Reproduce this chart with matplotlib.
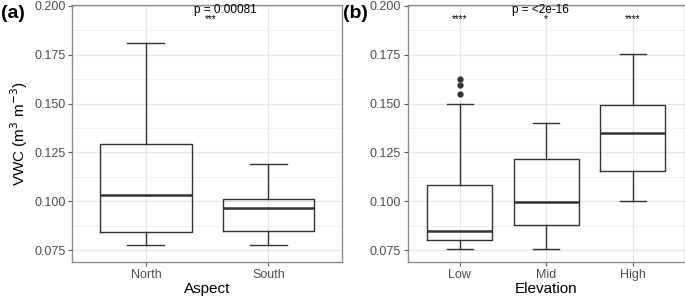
import matplotlib
matplotlib.use("Agg")
import matplotlib.pyplot as plt
import numpy as np

# panel (a): aspect
aspect_cats = ["North", "South"]
aspect_stats = [
    # whislo, q1, med, q3, whishi
    [0.0777, 0.0843, 0.1032, 0.1292, 0.1810],
    [0.0777, 0.0848, 0.0964, 0.1009, 0.1188],
]
aspect_fliers = [[], []]
aspect_p = "p = 0.00081"
aspect_signif = ["***"]

# panel (b): elevation
elev_cats = ["Low", "Mid", "High"]
elev_stats = [
    [0.0756, 0.0801, 0.0849, 0.1083, 0.1497],
    [0.0756, 0.0878, 0.0996, 0.1216, 0.1401],
    [0.1000, 0.1152, 0.1348, 0.1493, 0.1751],
]
elev_fliers = [[0.1547, 0.1594, 0.1624], [], []]
elev_p = "p = <2e-16"
elev_signif = ["****", "*", "****"]

yticks = [0.075, 0.100, 0.125, 0.150, 0.175, 0.200]
ylim = (0.0689, 0.2004)

plt.rcParams["font.family"] = ["Liberation Sans", "DejaVu Sans"]

fig = plt.figure(figsize=(6.85, 2.97), dpi=100)
ax_a = fig.add_axes([0.1056, 0.118, 0.3937, 0.865])
ax_b = fig.add_axes([0.5952, 0.118, 0.4041, 0.865])

line_col = "#333333"


def draw_panel(ax, cats, stats, fliers):
    n = len(cats)
    pos = np.arange(1, n + 1)
    bxp = []
    for c, s, f in zip(cats, stats, fliers):
        bxp.append({"label": c, "whislo": s[0], "q1": s[1], "med": s[2],
                    "q3": s[3], "whishi": s[4], "fliers": f})
    ax.bxp(bxp, positions=pos, widths=0.75, showfliers=True,
           boxprops=dict(color=line_col, linewidth=1.0),
           whiskerprops=dict(color=line_col, linewidth=1.0),
           capprops=dict(color=line_col, linewidth=1.0),
           medianprops=dict(color=line_col, linewidth=1.8),
           flierprops=dict(marker="o", markerfacecolor=line_col,
                           markeredgecolor=line_col, markersize=3.5),
           capwidths=0.3, manage_ticks=False, zorder=3)
    ax.set_xlim(0.4, n + 0.6)
    ax.set_ylim(*ylim)
    ax.set_xticks(pos)
    ax.set_xticklabels(cats)
    ax.set_yticks(yticks)
    ax.set_yticklabels([f"{t:.3f}" for t in yticks])
    minor = [(a + b) / 2 for a, b in zip(yticks[:-1], yticks[1:])]
    ax.set_yticks(minor, minor=True)
    ax.grid(True, which="major", color="#e6e6e6", linewidth=0.9, zorder=0)
    ax.grid(True, which="minor", axis="y", color="#f0f0f0", linewidth=0.6, zorder=0)
    ax.tick_params(which="minor", length=0)
    ax.tick_params(which="major", length=3, color="#555555", labelsize=9,
                   labelcolor="#4d4d4d", pad=2)
    for sp in ax.spines.values():
        sp.set_color("#8c8c8c")
        sp.set_linewidth(1.0)
    ax.set_axisbelow(True)


draw_panel(ax_a, aspect_cats, aspect_stats, aspect_fliers)
draw_panel(ax_b, elev_cats, elev_stats, elev_fliers)

ax_a.set_xlabel("Aspect", fontsize=11, labelpad=1)
ax_b.set_xlabel("Elevation", fontsize=11, labelpad=1)
ax_a.set_ylabel("VWC (m$^{3}$ m$^{-3}$)", fontsize=11, labelpad=3)

# p-values and significance stars
ax_a.text(1.65, 0.1978, aspect_p, ha="center", va="center", fontsize=8.5)
ax_a.text(1.53, 0.1905, aspect_signif[0], ha="center", va="bottom", fontsize=7)
ax_b.text(1.94, 0.1978, elev_p, ha="center", va="center", fontsize=8.5)
for i, s in enumerate(elev_signif):
    ax_b.text(i + 1, 0.1905, s, ha="center", va="bottom", fontsize=7)

fig.text(0.002, 0.955, "(a)", fontsize=14, fontweight="bold", ha="left", va="center")
fig.text(0.500, 0.955, "(b)", fontsize=14, fontweight="bold", ha="left", va="center")

fig.savefig("out.png", dpi=100, facecolor="white")
